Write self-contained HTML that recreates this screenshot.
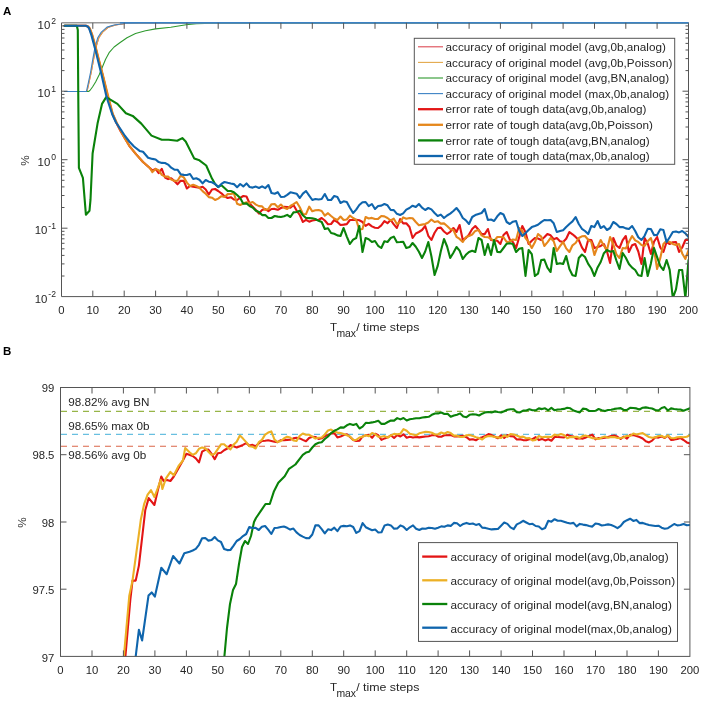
<!DOCTYPE html><html><head><meta charset="utf-8"><style>html,body{margin:0;padding:0;background:#fff}svg{display:block;filter:blur(0.45px)}text{font-family:'Liberation Sans',sans-serif;fill:#262626}</style></head><body>
<svg width="708" height="702" viewBox="0 0 708 702">
<rect width="708" height="702" fill="#fff"/>
<defs>
<clipPath id="ca"><rect x="61.5" y="21.3" width="627.0" height="275.3"/></clipPath>
<clipPath id="cb"><rect x="60.5" y="387.5" width="629.4" height="268.9"/></clipPath>
</defs>
<g clip-path="url(#ca)">
<polyline points="64.6,91.5 87.0,91.5 89.1,82.0 91.3,72.0 93.6,59.2 95.8,47.8 98.8,37.8 102.6,32.1 108.5,27.1 115.5,25.0 125.5,23.5 145.0,23.0 688.5,23.0" fill="none" stroke="#dc4a55" stroke-width="1.1" stroke-linejoin="round" stroke-linecap="round"/>
<polyline points="64.6,91.5 87.0,91.5 89.1,82.0 91.3,72.0 93.6,59.2 95.8,47.8 98.8,37.8 102.6,32.1 108.5,27.1 115.5,25.0 125.5,23.5 145.0,23.0 688.5,23.0" fill="none" stroke="#e3a84a" stroke-width="1.1" stroke-linejoin="round" stroke-linecap="round"/>
<polyline points="64.6,91.5 88.5,91.5 89.9,90.5 92.5,87.0 95.6,82.0 99.2,74.8 102.7,66.3 105.6,59.2 109.1,52.7 114.1,47.0 119.8,42.8 127.0,37.8 135.5,33.5 145.5,30.7 155.6,28.9 170.8,27.2 186.1,24.8 196.3,23.8 213.2,23.1 688.5,23.0" fill="none" stroke="#2f9a2f" stroke-width="1.1" stroke-linejoin="round" stroke-linecap="round"/>
<polyline points="64.6,91.5 86.4,91.5 88.5,82.0 90.6,72.0 92.8,59.2 94.9,47.8 97.7,37.8 101.3,32.1 107.0,27.1 114.1,25.0 124.1,23.5 140.0,23.0 688.5,23.0" fill="none" stroke="#3b82c4" stroke-width="1.1" stroke-linejoin="round" stroke-linecap="round"/>
<polyline points="64.6,25.7 85.9,25.7 87.8,26.4 89.5,28.5 92.0,35.0 95.5,47.6 99.0,61.3 102.6,75.0 107.5,95.4 112.5,114.0 116.5,123.0 120.5,131.0 125.0,138.5 129.3,145.8 136.2,154.4 143.0,162.0 149.8,168.0 152.4,170.5 155.6,168.9 158.7,173.2 161.8,168.9 165.0,177.5 168.1,179.1 171.2,178.3 174.4,181.1 177.5,184.3 180.6,180.8 183.8,180.9 186.9,188.5 190.0,185.9 193.2,186.8 196.3,187.3 199.4,187.7 202.6,186.8 205.7,189.5 208.8,194.5 212.0,189.5 215.1,189.0 218.2,191.0 221.4,193.3 224.5,196.3 227.7,198.0 230.8,197.2 233.9,199.5 237.1,200.0 240.2,197.8 243.3,196.0 246.5,196.5 249.6,203.4 252.7,206.7 255.9,210.0 259.0,213.6 262.1,209.9 265.3,209.1 268.4,211.1 271.5,209.0 274.7,208.9 277.8,209.8 280.9,208.0 284.1,206.9 287.2,207.0 290.4,207.6 293.5,205.0 296.6,210.6 299.8,215.0 302.9,222.0 306.0,219.9 309.2,221.7 312.3,220.5 315.4,220.0 318.6,220.0 321.7,218.0 324.8,220.5 328.0,224.2 331.1,224.0 334.2,220.0 337.4,222.0 340.5,225.0 343.6,224.6 346.8,224.1 349.9,220.0 353.1,220.0 356.2,219.8 359.3,220.3 362.5,222.0 365.6,225.9 368.7,223.9 371.9,226.4 375.0,227.7 378.1,228.0 381.3,225.4 384.4,221.2 387.5,223.2 390.7,220.0 393.8,224.4 396.9,228.0 400.1,219.0 403.2,223.4 406.3,223.3 409.5,227.0 412.6,238.0 415.8,233.5 418.9,232.0 422.0,230.0 425.2,226.0 428.3,235.8 431.4,240.0 434.6,232.8 437.7,228.0 440.8,227.6 444.0,231.5 447.1,234.0 450.2,231.8 453.4,228.0 456.5,232.0 459.6,225.0 462.8,240.0 465.9,238.0 469.0,234.6 472.2,228.9 475.3,226.0 478.5,229.7 481.6,234.0 484.7,234.1 487.9,229.0 491.0,240.0 494.1,240.5 497.3,240.7 500.4,244.0 503.5,235.0 506.7,232.0 509.8,239.6 512.9,242.0 516.1,248.0 519.2,237.1 522.3,226.0 525.5,232.2 528.6,244.0 531.8,240.7 534.9,238.0 538.0,238.5 541.2,240.0 544.3,237.3 547.4,234.0 550.6,235.3 553.7,239.2 556.8,238.0 560.0,241.3 563.1,242.0 566.2,238.8 569.4,232.0 572.5,234.3 575.6,236.9 578.8,240.0 581.9,247.3 585.0,252.0 588.2,239.8 591.3,240.0 594.4,248.0 597.6,247.1 600.7,245.9 603.9,244.0 607.0,251.5 610.1,263.0 613.3,238.0 616.4,245.5 619.5,248.0 622.7,240.1 625.8,236.0 628.9,252.0 632.1,245.3 635.2,244.0 638.3,251.5 641.5,264.0 644.6,238.0 647.7,243.4 650.9,254.0 654.0,241.8 657.1,237.0 660.3,247.5 663.4,252.0 666.6,242.0 669.7,244.0 672.8,242.2 676.0,242.0 679.1,252.0 682.2,247.5 685.4,240.0 688.5,240.0" fill="none" stroke="#e31515" stroke-width="2.1" stroke-linejoin="round" stroke-linecap="round"/>
<polyline points="64.6,25.7 86.1,25.7 88.0,26.4 89.8,28.5 92.3,35.0 95.8,47.6 99.3,61.3 102.9,75.0 108.0,95.4 112.8,114.0 116.8,123.0 120.8,131.0 125.0,138.8 129.3,145.8 136.2,154.4 143.0,162.0 149.8,168.0 152.4,172.1 155.6,168.9 158.7,170.2 161.8,174.9 165.0,176.6 168.1,176.6 171.2,179.5 174.4,180.9 177.5,180.7 180.6,175.8 183.8,177.4 186.9,182.6 190.0,186.0 193.2,184.8 196.3,186.0 199.4,187.7 202.6,191.1 205.7,193.8 208.8,197.1 212.0,197.7 215.1,200.0 218.2,198.6 221.4,196.2 224.5,197.0 227.7,194.1 230.8,194.0 233.9,193.2 237.1,203.7 240.2,205.0 243.3,203.5 246.5,202.2 249.6,203.0 252.7,202.0 255.9,204.6 259.0,206.1 262.1,206.4 265.3,210.0 268.4,208.9 271.5,204.2 274.7,204.0 277.8,207.2 280.9,204.5 284.1,207.7 287.2,209.0 290.4,206.0 293.5,204.1 296.6,202.0 299.8,207.2 302.9,214.0 306.0,214.2 309.2,206.7 312.3,211.3 315.4,210.3 318.6,210.0 321.7,211.0 324.8,215.7 328.0,213.2 331.1,216.0 334.2,218.5 337.4,220.0 340.5,216.5 343.6,220.0 346.8,219.5 349.9,215.7 353.1,218.0 356.2,219.9 359.3,229.6 362.5,229.0 365.6,217.0 368.7,218.5 371.9,217.9 375.0,219.0 378.1,218.9 381.3,216.0 384.4,216.4 387.5,218.0 390.7,220.5 393.8,218.7 396.9,224.0 400.1,222.2 403.2,217.4 406.3,218.8 409.5,218.0 412.6,218.3 415.8,222.0 418.9,225.2 422.0,224.6 425.2,224.0 428.3,222.5 431.4,219.6 434.6,222.0 437.7,221.2 440.8,223.6 444.0,223.4 447.1,226.0 450.2,229.1 453.4,230.0 456.5,236.8 459.6,238.9 462.8,242.0 465.9,237.2 469.0,236.0 472.2,234.5 475.3,230.9 478.5,230.0 481.6,235.4 484.7,237.0 487.9,237.2 491.0,239.0 494.1,240.9 497.3,237.0 500.4,237.0 503.5,237.3 506.7,242.0 509.8,241.5 512.9,239.5 516.1,240.0 519.2,228.0 522.3,231.0 525.5,238.0 528.6,241.9 531.8,248.0 534.9,242.3 538.0,234.0 541.2,236.6 544.3,246.0 547.4,242.3 550.6,238.0 553.7,241.2 556.8,251.0 560.0,246.1 563.1,242.0 566.2,248.4 569.4,252.0 572.5,245.3 575.6,243.0 578.8,238.0 581.9,236.3 585.0,236.0 588.2,239.8 591.3,242.0 594.4,255.0 597.6,246.7 600.7,240.0 603.9,245.7 607.0,250.0 610.1,237.0 613.3,244.5 616.4,254.3 619.5,258.0 622.7,248.0 625.8,248.5 628.9,242.1 632.1,236.0 635.2,240.4 638.3,242.0 641.5,245.0 644.6,246.0 647.7,241.3 650.9,238.0 654.0,249.2 657.1,269.0 660.3,257.9 663.4,244.0 666.6,240.6 669.7,242.0 672.8,243.9 676.0,245.0 679.1,244.0 682.2,253.4 685.4,259.0 688.5,250.0" fill="none" stroke="#e5871c" stroke-width="2.1" stroke-linejoin="round" stroke-linecap="round"/>
<polyline points="64.6,25.7 76.8,25.7 77.8,30.0 78.3,100.0 78.9,167.8 82.9,177.8 85.9,214.7 89.5,210.7 90.5,199.7 92.6,153.5 97.7,122.7 102.0,103.9 106.2,97.1 117.4,103.9 125.9,113.3 132.7,115.9 141.3,123.6 151.5,135.6 161.8,139.8 168.6,139.8 177.2,140.7 182.3,138.1 185.7,141.5 194.3,158.6 199.4,160.3 206.2,165.5 212.0,178.6 215.1,184.0 218.2,187.1 221.4,185.2 224.5,188.0 227.7,191.0 230.8,191.0 233.9,192.3 237.1,195.0 240.2,198.0 243.3,203.7 246.5,203.4 249.6,206.0 252.7,207.6 255.9,210.7 259.0,212.0 262.1,215.1 265.3,215.1 268.4,218.0 271.5,218.0 274.7,216.0 277.8,216.6 280.9,217.0 284.1,216.3 287.2,214.9 290.4,217.0 293.5,212.4 296.6,212.0 299.8,210.7 302.9,215.3 306.0,218.0 309.2,218.1 312.3,218.3 315.4,219.0 318.6,220.8 321.7,222.0 324.8,229.0 328.0,228.2 331.1,233.0 334.2,233.7 337.4,235.4 340.5,236.0 343.6,228.0 346.8,236.6 349.9,244.0 353.1,239.6 356.2,238.0 359.3,226.0 362.5,252.0 365.6,238.0 368.7,239.2 371.9,242.0 375.0,241.0 378.1,245.8 381.3,248.0 384.4,241.2 387.5,242.0 390.7,238.0 393.8,236.6 396.9,242.2 400.1,242.0 403.2,241.7 406.3,248.0 409.5,247.1 412.6,243.0 415.8,246.8 418.9,251.7 422.0,258.0 425.2,251.5 428.3,242.0 431.4,256.2 434.6,275.0 437.7,265.9 440.8,251.3 444.0,239.0 447.1,246.5 450.2,258.0 453.4,252.7 456.5,247.0 459.6,250.7 462.8,259.0 465.9,254.8 469.0,252.0 472.2,250.7 475.3,252.0 478.5,238.0 481.6,240.0 484.7,255.0 487.9,244.0 491.0,255.0 494.1,240.0 497.3,252.0 500.4,252.1 503.5,248.0 506.7,243.7 509.8,243.3 512.9,244.0 516.1,252.0 519.2,248.7 522.3,248.0 525.5,276.0 528.6,250.0 531.8,254.2 534.9,276.0 538.0,273.7 541.2,260.0 544.3,259.6 547.4,267.7 550.6,272.0 553.7,248.0 556.8,264.0 560.0,263.2 563.1,264.0 566.2,256.0 569.4,269.0 572.5,275.2 575.6,276.0 578.8,258.0 581.9,254.5 585.0,257.0 588.2,263.9 591.3,268.5 594.4,276.0 597.6,267.4 600.7,262.0 603.9,253.2 607.0,250.0 610.1,251.7 613.3,251.0 616.4,260.5 619.5,269.0 622.7,253.0 625.8,257.8 628.9,264.0 632.1,267.6 635.2,270.0 638.3,275.3 641.5,276.0 644.6,258.0 647.7,276.0 650.9,263.4 654.0,248.0 657.1,257.2 660.3,266.1 663.4,270.0 666.6,260.0 669.7,269.9 672.8,298.0 676.0,289.3 679.1,270.0 682.2,270.0 685.4,298.0 688.5,260.0" fill="none" stroke="#0a820a" stroke-width="2.1" stroke-linejoin="round" stroke-linecap="round"/>
<polyline points="64.6,25.7 85.7,25.7 87.5,26.4 89.1,28.3 91.4,35.1 94.8,47.6 98.2,61.3 101.6,75.0 106.2,95.4 108.0,101.5 112.2,114.2 116.0,122.5 120.8,129.6 125.0,136.0 129.3,141.5 134.0,146.5 139.6,150.9 143.0,151.8 148.1,157.8 152.4,158.9 155.6,159.5 158.7,162.1 161.8,162.9 165.0,163.0 168.1,164.6 171.2,167.7 174.4,169.7 177.5,169.7 180.6,174.2 183.8,174.9 186.9,175.0 190.0,174.0 193.2,179.0 196.3,178.3 199.4,179.8 202.6,183.4 205.7,180.0 208.8,181.7 212.0,182.3 215.1,184.0 218.2,187.0 221.4,183.9 224.5,182.0 227.7,182.8 230.8,183.5 233.9,184.1 237.1,187.2 240.2,184.0 243.3,186.4 246.5,183.4 249.6,187.0 252.7,187.6 255.9,186.6 259.0,188.0 262.1,186.4 265.3,188.1 268.4,185.0 271.5,193.0 274.7,193.7 277.8,192.2 280.9,197.0 284.1,196.8 287.2,194.8 290.4,192.3 293.5,193.0 296.6,193.7 299.8,198.0 302.9,193.6 306.0,191.0 309.2,195.7 312.3,200.0 315.4,199.0 318.6,199.5 321.7,199.0 324.8,194.0 328.0,199.9 331.1,200.0 334.2,196.0 337.4,197.1 340.5,203.0 343.6,201.3 346.8,202.0 349.9,207.8 353.1,213.0 356.2,209.6 359.3,205.0 362.5,202.2 365.6,202.0 368.7,206.2 371.9,204.0 375.0,209.0 378.1,206.0 381.3,205.6 384.4,204.0 387.5,205.3 390.7,210.0 393.8,210.1 396.9,213.8 400.1,215.0 403.2,213.3 406.3,209.6 409.5,208.0 412.6,205.7 415.8,207.0 418.9,204.0 422.0,207.7 425.2,210.0 428.3,208.0 431.4,209.4 434.6,213.0 437.7,216.0 440.8,214.6 444.0,218.0 447.1,215.5 450.2,213.6 453.4,211.0 456.5,208.0 459.6,212.0 462.8,218.0 465.9,220.3 469.0,224.0 472.2,217.0 475.3,215.1 478.5,214.0 481.6,213.0 484.7,209.0 487.9,220.0 491.0,219.5 494.1,221.0 497.3,216.3 500.4,213.0 503.5,214.5 506.7,222.0 509.8,224.0 512.9,221.7 516.1,221.0 519.2,230.9 522.3,236.0 525.5,233.1 528.6,230.0 531.8,227.1 534.9,226.0 538.0,224.7 541.2,222.1 544.3,220.0 547.4,220.2 550.6,220.0 553.7,223.3 556.8,232.0 560.0,230.9 563.1,230.2 566.2,227.0 569.4,224.0 572.5,221.4 575.6,217.0 578.8,224.0 581.9,228.8 585.0,231.0 588.2,234.0 591.3,226.0 594.4,227.1 597.6,221.0 600.7,228.0 603.9,226.2 607.0,230.0 610.1,228.0 613.3,222.0 616.4,224.0 619.5,227.1 622.7,227.0 625.8,228.4 628.9,229.0 632.1,226.0 635.2,231.0 638.3,237.2 641.5,240.0 644.6,235.8 647.7,228.9 650.9,229.0 654.0,235.1 657.1,235.0 660.3,229.3 663.4,230.0 666.6,242.0 669.7,237.2 672.8,232.0 676.0,231.5 679.1,232.4 682.2,231.0 685.4,233.3 688.5,237.0" fill="none" stroke="#0f65ad" stroke-width="2.1" stroke-linejoin="round" stroke-linecap="round"/>
</g>
<line x1="61.5" y1="22.8" x2="688.5" y2="22.8" stroke="#999" stroke-width="1.6"/>
<polyline points="61.5,22.8 61.5,296.6 688.5,296.6 688.5,22.8" fill="none" stroke="#555555" stroke-width="1"/>
<line x1="120" y1="22.8" x2="688.5" y2="22.8" stroke="#3b82c4" stroke-width="1.4"/>
<path d="M92.8,296.6v-6M92.8,22.8v6M124.2,296.6v-6M124.2,22.8v6M155.6,296.6v-6M155.6,22.8v6M186.9,296.6v-6M186.9,22.8v6M218.2,296.6v-6M218.2,22.8v6M249.6,296.6v-6M249.6,22.8v6M280.9,296.6v-6M280.9,22.8v6M312.3,296.6v-6M312.3,22.8v6M343.6,296.6v-6M343.6,22.8v6M375.0,296.6v-6M375.0,22.8v6M406.4,296.6v-6M406.4,22.8v6M437.7,296.6v-6M437.7,22.8v6M469.1,296.6v-6M469.1,22.8v6M500.4,296.6v-6M500.4,22.8v6M531.8,296.6v-6M531.8,22.8v6M563.1,296.6v-6M563.1,22.8v6M594.5,296.6v-6M594.5,22.8v6M625.8,296.6v-6M625.8,22.8v6M657.1,296.6v-6M657.1,22.8v6" stroke="#555555" stroke-width="1" fill="none"/>
<path d="M61.5,276.0h3M688.5,276.0h-3M61.5,263.9h3M688.5,263.9h-3M61.5,255.4h3M688.5,255.4h-3M61.5,248.8h3M688.5,248.8h-3M61.5,243.3h3M688.5,243.3h-3M61.5,238.8h3M688.5,238.8h-3M61.5,234.8h3M688.5,234.8h-3M61.5,231.3h3M688.5,231.3h-3M61.5,228.2h6M688.5,228.2h-6M61.5,207.5h3M688.5,207.5h-3M61.5,195.5h3M688.5,195.5h-3M61.5,186.9h3M688.5,186.9h-3M61.5,180.3h3M688.5,180.3h-3M61.5,174.9h3M688.5,174.9h-3M61.5,170.3h3M688.5,170.3h-3M61.5,166.3h3M688.5,166.3h-3M61.5,162.8h3M688.5,162.8h-3M61.5,159.7h6M688.5,159.7h-6M61.5,139.1h3M688.5,139.1h-3M61.5,127.0h3M688.5,127.0h-3M61.5,118.5h3M688.5,118.5h-3M61.5,111.9h3M688.5,111.9h-3M61.5,106.4h3M688.5,106.4h-3M61.5,101.9h3M688.5,101.9h-3M61.5,97.9h3M688.5,97.9h-3M61.5,94.4h3M688.5,94.4h-3M61.5,91.2h6M688.5,91.2h-6M61.5,70.6h3M688.5,70.6h-3M61.5,58.6h3M688.5,58.6h-3M61.5,50.0h3M688.5,50.0h-3M61.5,43.4h3M688.5,43.4h-3M61.5,38.0h3M688.5,38.0h-3M61.5,33.4h3M688.5,33.4h-3M61.5,29.4h3M688.5,29.4h-3M61.5,25.9h3M688.5,25.9h-3" stroke="#555555" stroke-width="1" fill="none"/>
<text x="61.5" y="314.4" font-size="11.3" text-anchor="middle">0</text>
<text x="92.8" y="314.4" font-size="11.3" text-anchor="middle">10</text>
<text x="124.2" y="314.4" font-size="11.3" text-anchor="middle">20</text>
<text x="155.6" y="314.4" font-size="11.3" text-anchor="middle">30</text>
<text x="186.9" y="314.4" font-size="11.3" text-anchor="middle">40</text>
<text x="218.2" y="314.4" font-size="11.3" text-anchor="middle">50</text>
<text x="249.6" y="314.4" font-size="11.3" text-anchor="middle">60</text>
<text x="280.9" y="314.4" font-size="11.3" text-anchor="middle">70</text>
<text x="312.3" y="314.4" font-size="11.3" text-anchor="middle">80</text>
<text x="343.6" y="314.4" font-size="11.3" text-anchor="middle">90</text>
<text x="375.0" y="314.4" font-size="11.3" text-anchor="middle">100</text>
<text x="406.4" y="314.4" font-size="11.3" text-anchor="middle">110</text>
<text x="437.7" y="314.4" font-size="11.3" text-anchor="middle">120</text>
<text x="469.1" y="314.4" font-size="11.3" text-anchor="middle">130</text>
<text x="500.4" y="314.4" font-size="11.3" text-anchor="middle">140</text>
<text x="531.8" y="314.4" font-size="11.3" text-anchor="middle">150</text>
<text x="563.1" y="314.4" font-size="11.3" text-anchor="middle">160</text>
<text x="594.5" y="314.4" font-size="11.3" text-anchor="middle">170</text>
<text x="625.8" y="314.4" font-size="11.3" text-anchor="middle">180</text>
<text x="657.1" y="314.4" font-size="11.3" text-anchor="middle">190</text>
<text x="688.5" y="314.4" font-size="11.3" text-anchor="middle">200</text>
<text x="56" y="302.6" font-size="11.4" text-anchor="end">10<tspan dx="1" dy="-5.3" font-size="8.6">-2</tspan></text>
<text x="56" y="234.2" font-size="11.4" text-anchor="end">10<tspan dx="1" dy="-5.3" font-size="8.6">-1</tspan></text>
<text x="56" y="165.7" font-size="11.4" text-anchor="end">10<tspan dx="1" dy="-5.3" font-size="8.6">0</tspan></text>
<text x="56" y="97.2" font-size="11.4" text-anchor="end">10<tspan dx="1" dy="-5.3" font-size="8.6">1</tspan></text>
<text x="56" y="28.8" font-size="11.4" text-anchor="end">10<tspan dx="1" dy="-5.3" font-size="8.6">2</tspan></text>
<text transform="translate(29,160.5) rotate(-90)" font-size="11.8" text-anchor="middle">%</text>
<text x="330" y="330.8" font-size="11.6">T</text><text x="336.4" y="336.5" font-size="10.4">max</text><text x="356.2" y="330.8" font-size="11.6" textLength="63.2" lengthAdjust="spacingAndGlyphs">/ time steps</text>
<text x="3" y="14.7" font-size="11.5" font-weight="bold" style="fill:#000">A</text>
<text x="3" y="355.4" font-size="11.5" font-weight="bold" style="fill:#000">B</text>
<rect x="414.3" y="38.3" width="260.40000000000003" height="126.00000000000001" fill="#fff" stroke="#555555" stroke-width="1"/>
<line x1="418" y1="46.8" x2="443" y2="46.8" stroke="#dc4a55" stroke-width="1.1"/>
<text x="445.6" y="50.9" font-size="11.7">accuracy of original model (avg,0b,analog)</text>
<line x1="418" y1="62.4" x2="443" y2="62.4" stroke="#e3a84a" stroke-width="1.1"/>
<text x="445.6" y="66.5" font-size="11.7">accuracy of original model (avg,0b,Poisson)</text>
<line x1="418" y1="78.0" x2="443" y2="78.0" stroke="#2f9a2f" stroke-width="1.1"/>
<text x="445.6" y="82.1" font-size="11.7">accuracy of original model (avg,BN,analog)</text>
<line x1="418" y1="93.6" x2="443" y2="93.6" stroke="#3b82c4" stroke-width="1.1"/>
<text x="445.6" y="97.7" font-size="11.7">accuracy of original model (max,0b,analog)</text>
<line x1="418" y1="109.2" x2="443" y2="109.2" stroke="#e31515" stroke-width="2.3"/>
<text x="445.6" y="113.3" font-size="11.7">error rate of tough data(avg,0b,analog)</text>
<line x1="418" y1="124.8" x2="443" y2="124.8" stroke="#e5871c" stroke-width="2.3"/>
<text x="445.6" y="128.9" font-size="11.7">error rate of tough data(avg,0b,Poisson)</text>
<line x1="418" y1="140.4" x2="443" y2="140.4" stroke="#0a820a" stroke-width="2.3"/>
<text x="445.6" y="144.5" font-size="11.7">error rate of tough data(avg,BN,analog)</text>
<line x1="418" y1="156.0" x2="443" y2="156.0" stroke="#0f65ad" stroke-width="2.3"/>
<text x="445.6" y="160.1" font-size="11.7">error rate of tough data(max,0b,analog)</text>
<g clip-path="url(#cb)">
<line x1="61.0" y1="411.4" x2="689.9" y2="411.4" stroke="#97b548" stroke-width="1.1" stroke-dasharray="6 5"/>
<line x1="61.0" y1="434.4" x2="689.9" y2="434.4" stroke="#68bfe0" stroke-width="1.1" stroke-dasharray="6 5"/>
<line x1="61.0" y1="446.3" x2="689.9" y2="446.3" stroke="#da6648" stroke-width="1.1" stroke-dasharray="6 5"/>
<polyline points="124.0,672.0 125.4,656.4 130.3,599.8 132.5,580.6 135.7,580.6 138.9,565.6 145.3,510.0 148.7,498.1 154.4,505.0 157.9,490.1 161.3,476.5 163.6,481.0 167.0,479.9 170.4,481.0 173.8,476.5 178.4,468.5 182.9,460.5 186.4,453.7 192.7,456.0 195.8,458.4 199.0,462.4 202.1,451.7 205.3,449.9 208.4,449.5 211.6,453.9 214.7,459.2 217.8,453.2 221.0,452.7 224.1,450.2 227.3,448.5 230.4,445.1 233.6,446.3 236.7,447.4 239.9,446.3 243.0,444.9 246.2,443.1 249.3,445.6 252.5,444.9 255.6,446.3 258.8,443.4 261.9,441.0 265.1,440.7 268.2,440.3 271.3,441.0 274.5,441.8 277.6,442.1 280.8,440.2 283.9,440.3 287.1,439.9 290.2,439.8 293.4,438.4 296.5,437.8 299.7,438.4 302.8,439.9 306.0,441.3 309.1,438.0 312.3,436.7 315.4,437.0 318.6,438.9 321.7,438.3 324.8,436.2 328.0,434.9 331.1,433.5 334.3,433.1 337.4,437.4 340.6,436.5 343.7,435.1 346.9,434.2 350.0,437.0 353.2,439.9 356.3,441.0 359.5,440.6 362.6,436.4 365.8,435.3 368.9,434.7 372.1,437.8 375.2,433.8 378.3,435.3 381.5,439.9 384.6,438.4 387.8,437.3 390.9,435.3 394.1,438.0 397.2,435.1 400.4,436.5 403.5,434.3 406.7,437.7 409.8,436.8 413.0,437.6 416.1,436.9 419.3,437.4 422.4,436.9 425.6,436.5 428.7,436.2 431.8,435.3 435.0,434.9 438.1,436.6 441.3,436.8 444.4,435.3 447.6,435.3 450.7,435.1 453.9,436.4 457.0,436.4 460.2,436.1 463.3,435.8 466.5,437.2 469.6,439.6 472.8,439.3 475.9,440.3 479.1,438.2 482.2,437.2 485.3,435.9 488.5,434.1 491.6,435.1 494.8,436.7 497.9,438.2 501.1,435.3 504.2,438.0 507.4,435.1 510.5,436.3 513.7,436.4 516.8,439.5 520.0,439.2 523.1,440.1 526.3,440.3 529.4,439.3 532.5,439.2 535.7,437.2 538.8,440.1 542.0,438.9 545.1,440.4 548.3,439.2 551.4,440.7 554.6,437.0 557.7,437.0 560.9,437.2 564.0,437.5 567.2,434.7 570.3,436.1 573.5,436.5 576.6,438.8 579.8,438.2 582.9,438.6 586.0,437.4 589.2,436.0 592.3,434.6 595.5,439.4 598.6,438.0 601.8,438.2 604.9,437.8 608.1,436.9 611.2,436.0 614.4,435.6 617.5,436.8 620.7,439.0 623.8,436.5 627.0,438.7 630.1,434.9 633.3,435.1 636.4,435.9 639.5,437.0 642.7,438.5 645.8,441.3 649.0,442.4 652.1,440.6 655.3,437.2 658.4,437.6 661.6,436.4 664.7,438.0 667.9,435.7 671.0,440.0 674.2,439.6 677.3,438.9 680.5,438.0 683.6,440.0 686.8,442.4 689.9,443.4" fill="none" stroke="#e31515" stroke-width="2.1" stroke-linejoin="round" stroke-linecap="round"/>
<polyline points="122.0,672.0 123.9,656.4 129.3,595.6 132.5,580.6 137.8,542.1 140.8,519.8 144.2,503.8 147.6,494.7 151.0,490.1 154.4,497.0 157.9,487.9 160.7,479.9 162.4,489.0 165.8,478.7 170.4,471.9 173.8,475.3 178.4,466.2 182.9,460.5 185.2,448.0 189.8,452.5 192.7,454.9 195.8,453.3 199.0,448.8 202.1,447.4 205.3,448.2 208.4,451.8 211.6,454.9 214.7,453.7 217.8,449.1 221.0,444.3 224.1,444.2 227.3,447.3 230.4,449.5 233.6,444.6 236.7,441.8 239.9,435.6 243.0,438.6 246.2,442.1 249.3,446.2 252.5,446.6 255.6,448.5 258.8,442.2 261.9,439.9 265.1,434.6 268.2,432.6 271.3,431.4 274.5,439.7 277.6,442.1 280.8,441.0 283.9,438.5 287.1,436.7 290.2,437.6 293.4,440.5 296.5,441.0 299.7,435.8 302.8,433.5 306.0,434.7 309.1,434.7 312.3,436.7 315.4,438.6 318.6,437.8 321.7,437.5 324.8,434.4 328.0,430.5 331.1,429.6 334.3,431.6 337.4,432.6 340.6,433.1 343.7,434.1 346.9,435.2 350.0,436.5 353.2,440.0 356.3,439.9 359.5,437.5 362.6,436.8 365.8,435.3 368.9,436.3 372.1,433.1 375.2,434.2 378.3,436.7 381.5,436.8 384.6,436.1 387.8,437.6 390.9,435.4 394.1,433.9 397.2,434.2 400.4,433.7 403.5,429.1 406.7,430.8 409.8,433.7 413.0,434.5 416.1,435.3 419.3,433.3 422.4,432.6 425.6,431.9 428.7,432.0 431.8,432.8 435.0,434.5 438.1,434.2 441.3,432.5 444.4,433.7 447.6,432.0 450.7,433.1 453.9,435.6 457.0,435.6 460.2,437.0 463.3,436.9 466.5,435.2 469.6,435.0 472.8,435.9 475.9,437.3 479.1,438.0 482.2,439.5 485.3,436.9 488.5,436.0 491.6,436.2 494.8,437.0 497.9,437.4 501.1,438.0 504.2,435.2 507.4,436.9 510.5,434.0 513.7,434.5 516.8,435.5 520.0,437.0 523.1,436.6 526.3,438.3 529.4,438.0 532.5,440.5 535.7,439.9 538.8,436.0 542.0,437.2 545.1,436.9 548.3,436.8 551.4,437.0 554.6,434.6 557.7,435.4 560.9,434.0 564.0,435.1 567.2,438.2 570.3,437.0 573.5,437.1 576.6,436.7 579.8,438.0 582.9,435.9 586.0,435.6 589.2,437.0 592.3,438.1 595.5,438.4 598.6,439.0 601.8,437.5 604.9,436.5 608.1,437.7 611.2,437.0 614.4,437.1 617.5,438.0 620.7,438.0 623.8,437.2 627.0,435.8 630.1,436.0 633.3,433.5 636.4,434.6 639.5,433.8 642.7,433.1 645.8,435.1 649.0,437.0 652.1,437.7 655.3,437.4 658.4,436.0 661.6,435.8 664.7,437.5 667.9,435.4 671.0,438.0 674.2,438.3 677.3,437.2 680.5,437.0 683.6,437.3 686.8,436.7 689.9,435.1" fill="none" stroke="#ecb025" stroke-width="2.1" stroke-linejoin="round" stroke-linecap="round"/>
<polyline points="223.0,672.0 224.4,656.4 227.0,628.0 230.0,604.0 233.0,590.0 236.0,584.0 239.0,564.0 242.0,547.0 245.0,541.0 248.0,544.0 251.0,536.0 254.0,522.0 256.0,518.0 261.2,510.4 265.5,504.0 269.8,504.0 274.0,491.2 278.3,482.7 284.7,476.3 289.0,468.8 295.4,464.5 302.8,454.9 306.0,452.6 309.1,451.7 312.3,447.5 315.4,444.2 318.6,442.8 321.7,442.2 324.8,439.0 328.0,436.5 331.1,433.1 334.3,430.8 337.4,429.4 340.6,427.4 343.7,427.6 346.9,425.3 350.0,423.9 353.2,424.9 356.3,423.9 359.5,428.5 362.6,426.7 365.8,422.8 368.9,423.0 372.1,422.4 375.2,421.7 378.3,420.8 381.5,423.9 384.6,423.9 387.8,422.0 390.9,420.5 394.1,420.6 397.2,418.1 400.4,419.4 403.5,418.0 406.7,420.5 409.8,419.2 413.0,418.8 416.1,418.2 419.3,418.3 422.4,417.5 425.6,417.1 428.7,416.8 431.8,414.8 435.0,413.5 438.1,413.4 441.3,412.5 444.4,414.0 447.6,413.7 450.7,416.8 453.9,415.5 457.0,414.7 460.2,413.4 463.3,416.5 466.5,417.2 469.6,414.8 472.8,414.2 475.9,414.5 479.1,415.5 482.2,413.7 485.3,412.4 488.5,412.0 491.6,412.4 494.8,411.4 497.9,412.0 501.1,412.4 504.2,411.3 507.4,409.8 510.5,409.3 513.7,409.3 516.8,412.2 520.0,412.4 523.1,410.6 526.3,410.5 529.4,409.3 532.5,410.2 535.7,410.3 538.8,408.4 542.0,409.1 545.1,408.3 548.3,410.3 551.4,407.8 554.6,410.3 557.7,409.5 560.9,409.3 564.0,408.9 567.2,407.8 570.3,408.3 573.5,410.5 576.6,411.5 579.8,412.4 582.9,408.6 586.0,409.0 589.2,411.0 592.3,411.0 595.5,410.8 598.6,409.0 601.8,410.2 604.9,411.1 608.1,410.0 611.2,409.8 614.4,408.9 617.5,408.5 620.7,408.1 623.8,410.0 627.0,409.9 630.1,407.9 633.3,408.0 636.4,408.4 639.5,409.5 642.7,407.7 645.8,407.4 649.0,408.0 652.1,408.5 655.3,410.0 658.4,410.5 661.6,408.0 664.7,407.1 667.9,410.5 671.0,408.4 674.2,409.0 677.3,409.4 680.5,409.5 683.6,410.7 686.8,409.4 689.9,408.3" fill="none" stroke="#0a820a" stroke-width="2.1" stroke-linejoin="round" stroke-linecap="round"/>
<polyline points="133.0,672.0 135.7,656.4 138.9,629.8 142.1,640.5 148.5,595.6 151.7,592.4 154.9,596.6 161.3,567.8 166.7,574.2 173.1,556.0 179.5,563.5 184.3,553.2 189.6,551.7 192.7,550.5 195.8,548.9 199.0,544.8 202.1,538.2 205.3,538.0 208.4,540.6 211.6,540.0 214.7,537.0 217.8,540.4 221.0,542.0 224.1,549.0 227.3,550.1 230.4,550.0 233.6,545.7 236.7,541.0 239.9,539.0 243.0,536.1 246.2,534.0 249.3,527.0 252.5,528.0 255.6,527.9 258.8,530.0 261.9,526.8 265.1,526.0 268.2,529.7 271.3,534.0 274.5,528.0 277.6,527.8 280.8,527.0 283.9,526.5 287.1,527.8 290.2,529.6 293.4,528.6 296.5,532.4 299.7,535.0 302.8,536.6 306.0,538.1 309.1,538.2 312.3,534.5 315.4,525.4 318.6,525.4 321.7,529.1 324.8,533.4 328.0,529.3 331.1,530.1 334.3,527.7 337.4,531.1 340.6,526.5 343.7,525.9 346.9,526.2 350.0,525.4 353.2,527.0 356.3,532.9 359.5,531.1 362.6,523.1 365.8,527.2 368.9,528.8 372.1,530.2 375.2,529.5 378.3,532.5 381.5,532.2 384.6,525.4 387.8,524.6 390.9,525.4 394.1,528.8 397.2,528.4 400.4,525.4 403.5,526.7 406.7,530.0 409.8,527.3 413.0,525.4 416.1,528.8 419.3,530.0 422.4,528.5 425.6,528.7 428.7,527.7 431.8,528.0 435.0,528.8 438.1,527.7 441.3,526.4 444.4,526.8 447.6,525.4 450.7,525.9 453.9,522.9 457.0,523.2 460.2,526.0 463.3,523.9 466.5,522.9 469.6,524.0 472.8,523.5 475.9,524.9 479.1,524.0 482.2,527.6 485.3,527.9 488.5,528.7 491.6,529.4 494.8,529.1 497.9,528.9 501.1,525.7 504.2,522.5 507.4,523.9 510.5,527.4 513.7,529.1 516.8,524.4 520.0,522.9 523.1,520.8 526.3,522.5 529.4,524.2 532.5,523.8 535.7,526.0 538.8,526.5 542.0,529.3 545.1,528.0 548.3,520.8 551.4,521.7 554.6,519.2 557.7,520.7 560.9,520.8 564.0,521.7 567.2,522.8 570.3,523.5 573.5,522.9 576.6,526.4 579.8,523.9 582.9,524.6 586.0,525.1 589.2,526.0 592.3,526.6 595.5,523.5 598.6,524.0 601.8,525.5 604.9,525.0 608.1,524.4 611.2,525.0 614.4,526.4 617.5,528.2 620.7,525.9 623.8,522.0 627.0,520.2 630.1,518.7 633.3,520.9 636.4,519.9 639.5,523.1 642.7,522.9 645.8,524.0 649.0,525.0 652.1,525.5 655.3,526.0 658.4,525.7 661.6,527.7 664.7,528.7 667.9,528.2 671.0,526.2 674.2,524.0 677.3,525.4 680.5,525.0 683.6,524.0 686.8,525.3 689.9,525.0" fill="none" stroke="#0f65ad" stroke-width="2.1" stroke-linejoin="round" stroke-linecap="round"/>
</g>
<rect x="60.5" y="387.5" width="629.4" height="268.9" fill="none" stroke="#555555" stroke-width="1"/>
<path d="M92.0,656.4v-6M92.0,387.5v6M123.4,656.4v-6M123.4,387.5v6M154.9,656.4v-6M154.9,387.5v6M186.4,656.4v-6M186.4,387.5v6M217.8,656.4v-6M217.8,387.5v6M249.3,656.4v-6M249.3,387.5v6M280.8,656.4v-6M280.8,387.5v6M312.3,656.4v-6M312.3,387.5v6M343.7,656.4v-6M343.7,387.5v6M375.2,656.4v-6M375.2,387.5v6M406.7,656.4v-6M406.7,387.5v6M438.1,656.4v-6M438.1,387.5v6M469.6,656.4v-6M469.6,387.5v6M501.1,656.4v-6M501.1,387.5v6M532.5,656.4v-6M532.5,387.5v6M564.0,656.4v-6M564.0,387.5v6M595.5,656.4v-6M595.5,387.5v6M627.0,656.4v-6M627.0,387.5v6M658.4,656.4v-6M658.4,387.5v6M60.5,589.2h6M689.9,589.2h-6M60.5,522.0h6M689.9,522.0h-6M60.5,454.7h6M689.9,454.7h-6" stroke="#555555" stroke-width="1" fill="none"/>
<text x="60.5" y="674.2" font-size="11.3" text-anchor="middle">0</text>
<text x="92.0" y="674.2" font-size="11.3" text-anchor="middle">10</text>
<text x="123.4" y="674.2" font-size="11.3" text-anchor="middle">20</text>
<text x="154.9" y="674.2" font-size="11.3" text-anchor="middle">30</text>
<text x="186.4" y="674.2" font-size="11.3" text-anchor="middle">40</text>
<text x="217.8" y="674.2" font-size="11.3" text-anchor="middle">50</text>
<text x="249.3" y="674.2" font-size="11.3" text-anchor="middle">60</text>
<text x="280.8" y="674.2" font-size="11.3" text-anchor="middle">70</text>
<text x="312.3" y="674.2" font-size="11.3" text-anchor="middle">80</text>
<text x="343.7" y="674.2" font-size="11.3" text-anchor="middle">90</text>
<text x="375.2" y="674.2" font-size="11.3" text-anchor="middle">100</text>
<text x="406.7" y="674.2" font-size="11.3" text-anchor="middle">110</text>
<text x="438.1" y="674.2" font-size="11.3" text-anchor="middle">120</text>
<text x="469.6" y="674.2" font-size="11.3" text-anchor="middle">130</text>
<text x="501.1" y="674.2" font-size="11.3" text-anchor="middle">140</text>
<text x="532.5" y="674.2" font-size="11.3" text-anchor="middle">150</text>
<text x="564.0" y="674.2" font-size="11.3" text-anchor="middle">160</text>
<text x="595.5" y="674.2" font-size="11.3" text-anchor="middle">170</text>
<text x="627.0" y="674.2" font-size="11.3" text-anchor="middle">180</text>
<text x="658.4" y="674.2" font-size="11.3" text-anchor="middle">190</text>
<text x="689.9" y="674.2" font-size="11.3" text-anchor="middle">200</text>
<text x="54.4" y="661.7" font-size="11.3" text-anchor="end">97</text>
<text x="54.4" y="594.4" font-size="11.3" text-anchor="end">97.5</text>
<text x="54.4" y="526.8" font-size="11.3" text-anchor="end">98</text>
<text x="54.4" y="458.8" font-size="11.3" text-anchor="end">98.5</text>
<text x="54.4" y="391.6" font-size="11.3" text-anchor="end">99</text>
<text transform="translate(25.8,522.4) rotate(-90)" font-size="11.8" text-anchor="middle">%</text>
<text x="330" y="690.9" font-size="11.6">T</text><text x="336.4" y="696.6" font-size="10.4">max</text><text x="356.2" y="690.9" font-size="11.6" textLength="63.2" lengthAdjust="spacingAndGlyphs">/ time steps</text>
<text x="68.3" y="405.5" font-size="11.7">98.82% avg BN</text>
<text x="68.3" y="430.3" font-size="11.7">98.65% max 0b</text>
<text x="68.3" y="458.7" font-size="11.7">98.56% avg 0b</text>
<rect x="418.5" y="542.6" width="259.0" height="98.79999999999995" fill="#fff" stroke="#555555" stroke-width="1"/>
<line x1="422.2" y1="556.6" x2="447.3" y2="556.6" stroke="#e31515" stroke-width="2.3"/>
<text x="450.4" y="561.4" font-size="11.75">accuracy of original model(avg,0b,analog)</text>
<line x1="422.2" y1="580.3" x2="447.3" y2="580.3" stroke="#ecb025" stroke-width="2.3"/>
<text x="450.4" y="585.1" font-size="11.75">accuracy of original model(avg,0b,Poisson)</text>
<line x1="422.2" y1="604.0" x2="447.3" y2="604.0" stroke="#0a820a" stroke-width="2.3"/>
<text x="450.4" y="608.8" font-size="11.75">accuracy of original model(avg,BN,analog)</text>
<line x1="422.2" y1="627.7" x2="447.3" y2="627.7" stroke="#0f65ad" stroke-width="2.3"/>
<text x="450.4" y="632.5" font-size="11.75">accuracy of original model(max,0b,analog)</text>
</svg></body></html>
